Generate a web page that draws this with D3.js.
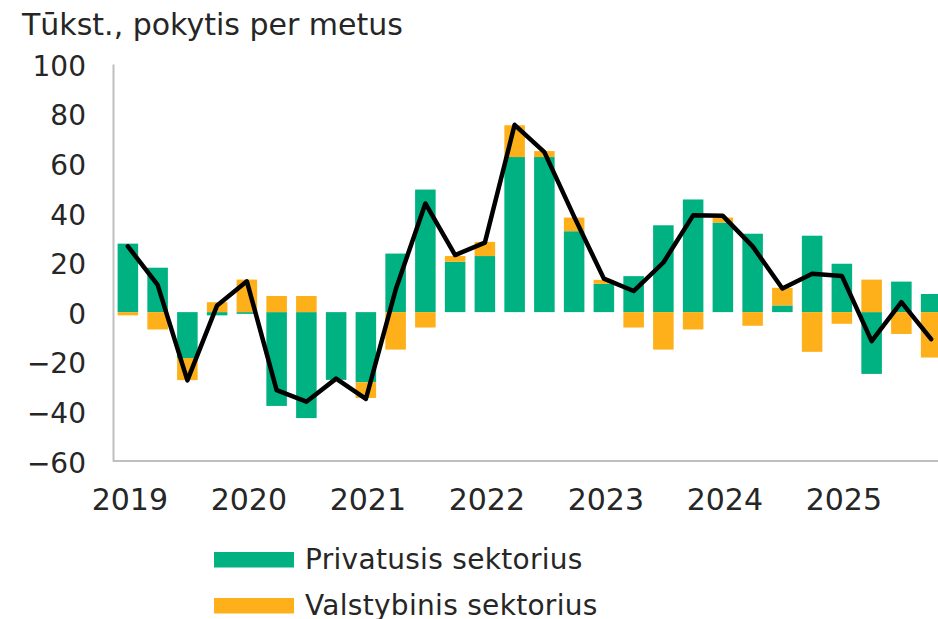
<!DOCTYPE html>
<html>
<head>
<meta charset="utf-8">
<script src="https://cdn.jsdelivr.net/npm/d3@7"></script>
<style>
  body { margin: 0; background: #fff; }
  svg text { font-family: "DejaVu Sans", Verdana, sans-serif; fill: #262626; }
</style>
</head>
<body>
<svg id="chart" width="938" height="619"></svg>
<script>
// quarterly data, 2019 Q1 .. 2025 Q4
const years = [2019, 2020, 2021, 2022, 2023, 2024, 2025]
const quarters = years.flatMap((y) => [1, 2, 3, 4].map((q) => y + 'Q' + q))

const privateSector = [27.6, 17.9, -18.5, -1.3, -0.7, -37.8, -42.7, -27.3, -28.3, 23.6, 49.4, 20.3, 22.6, 62.5,
  62.5, 32.6, 11.4, 14.5, 35.0, 45.4, 36.1, 31.6, 2.7, 30.8, 19.5, -24.9, 12.3, 7.3]
const stateSector = [-1.3, -7.0, -8.9, 4.0, 13.1, 6.5, 6.5, 0, -6.3, -15.1, -6.2, 2.3, 5.7, 12.8,
  2.4, 5.5, 1.6, -6.2, -15.1, -7.0, 2.0, -5.5, 7.1, -16.0, -4.7, 13.1, -8.8, -18.3]
const total = [26.5, 11.0, -27.5, 2.7, 12.4, -31.4, -36.1, -26.8, -35.0, 9.0, 43.8, 23.0, 28.0, 75.5,
  64.5, 38.5, 13.5, 8.5, 20.0, 39.0, 38.8, 26.5, 9.5, 15.5, 14.6, -11.7, 4.0, -10.9]

const yTicks = [-60, -40, -20, 0, 20, 40, 60, 80, 100]
const seriesNames = ['Privatusis sektorius', 'Valstybinis sektorius']
const colors = ['#00b182', '#fdb01a']

const svg = d3.select('#chart')

const x = d3.scaleBand()
  .domain(quarters)
  .range([113, 946])
  .paddingInner(0.31)
  .paddingOuter(0.155)

const y = d3.scaleLinear().domain([-60, 100]).range([461, 64])

// stacked bars, positives up and negatives down (like Excel)
const rows = quarters.map((q, i) => ({ q: q, p: privateSector[i], s: stateSector[i] }))
const stacked = d3.stack()
  .keys(['p', 's'])
  .offset(d3.stackOffsetDiverging)(rows)

svg.append('g')
  .selectAll('g')
  .data(stacked)
  .join('g')
  .attr('fill', (d, i) => colors[i])
  .selectAll('rect')
  .data((d) => d)
  .join('rect')
  .attr('x', (d) => x(d.data.q))
  .attr('width', x.bandwidth())
  .attr('y', (d) => y(Math.max(d[0], d[1])))
  .attr('height', (d) => Math.abs(y(d[0]) - y(d[1])))

// axes
const yAxis = svg.append('g')
  .attr('transform', 'translate(113,0)')
  .call(d3.axisLeft(y).tickValues(yTicks).tickSize(0).tickPadding(27))
yAxis.select('.domain').attr('stroke', '#bfbfbf').attr('stroke-width', 2)
yAxis.selectAll('text')
  .attr('font-size', 28)
  .attr('font-family', null)
  .attr('dy', '0.4em')

svg.append('line')
  .attr('x1', 113)
  .attr('x2', 946)
  .attr('y1', y(-60))
  .attr('y2', y(-60))
  .attr('stroke', '#bfbfbf')
  .attr('stroke-width', 2)

svg.append('g')
  .selectAll('text')
  .data(years)
  .join('text')
  .attr('x', (d) => x(d + 'Q1') + x.bandwidth() / 2 + 2)
  .attr('y', 510)
  .attr('text-anchor', 'middle')
  .attr('font-size', 30)
  .text((d) => d)

// total line
const line = d3.line()
  .x((d, i) => x(quarters[i]) + x.bandwidth() / 2)
  .y((d) => y(d))

svg.append('path')
  .datum(total)
  .attr('fill', 'none')
  .attr('stroke', '#000')
  .attr('stroke-width', 4.5)
  .attr('stroke-linejoin', 'round')
  .attr('stroke-linecap', 'round')
  .attr('d', line)

// title
svg.append('text')
  .attr('x', 22)
  .attr('y', 35)
  .attr('font-size', 30)
  .text('Tūkst., pokytis per metus')

// legend
const legend = svg.append('g')
  .selectAll('g')
  .data(seriesNames)
  .join('g')
  .attr('transform', (d, i) => 'translate(214,' + (552 + i * 46) + ')')

legend.append('rect')
  .attr('width', 80)
  .attr('height', 15.5)
  .attr('fill', (d, i) => colors[i])

legend.append('text')
  .attr('x', 91)
  .attr('y', 17)
  .attr('font-size', 28)
  .attr('letter-spacing', 0.3)
  .text((d) => d)
</script>
</body>
</html>
